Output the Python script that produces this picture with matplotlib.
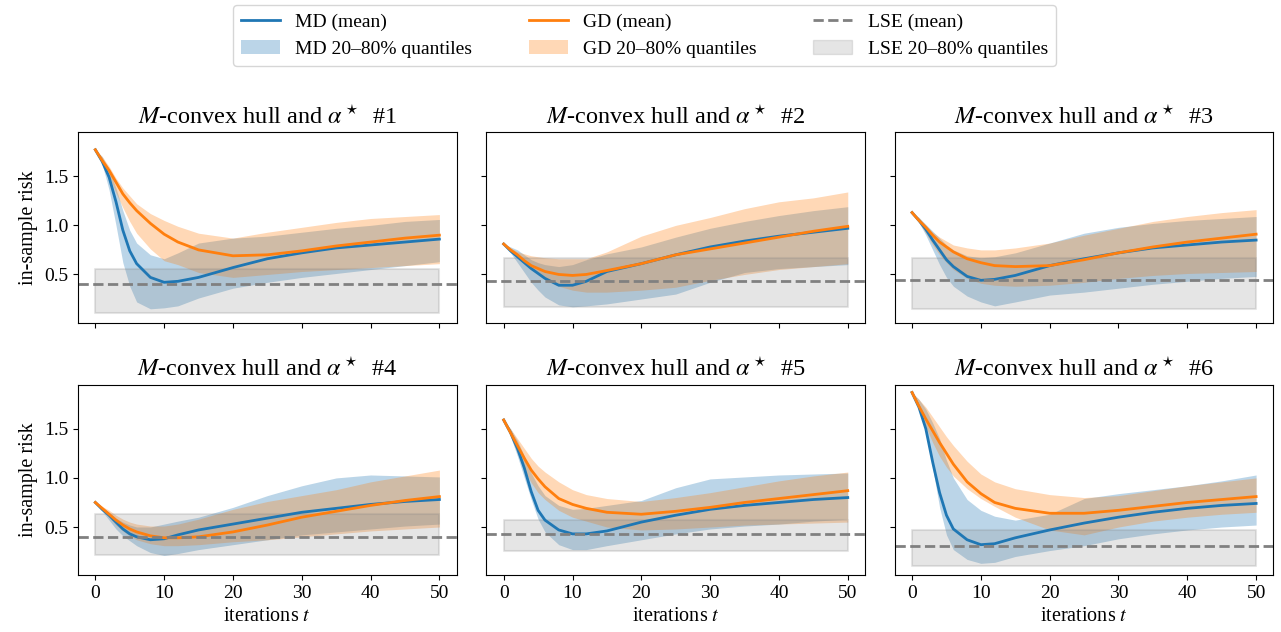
import numpy as np
import matplotlib
matplotlib.use("Agg")
import matplotlib.pyplot as plt
from matplotlib.lines import Line2D
from matplotlib.patches import Patch

plt.rcParams['font.family'] = 'serif'
plt.rcParams['font.serif'] = ['Liberation Serif', 'DejaVu Serif']
plt.rcParams['mathtext.fontset'] = 'stix'

# iterations where values were read
t = [0, 1, 2, 3, 4, 5, 6, 8, 10, 12, 15, 20, 25, 30, 35, 40, 45, 50]

# one list per panel (#1 .. #6)
md_mean = [
    [1.77, 1.65, 1.49, 1.24, 0.95, 0.74, 0.61, 0.47, 0.42, 0.43, 0.47, 0.57, 0.66, 0.72, 0.77, 0.80, 0.83, 0.86],
    [0.81, 0.74, 0.68, 0.62, 0.56, 0.51, 0.46, 0.39, 0.39, 0.43, 0.53, 0.61, 0.70, 0.78, 0.84, 0.89, 0.93, 0.97],
    [1.13, 1.05, 0.96, 0.85, 0.75, 0.65, 0.58, 0.48, 0.44, 0.45, 0.49, 0.59, 0.66, 0.72, 0.77, 0.80, 0.83, 0.85],
    [0.75, 0.68, 0.62, 0.55, 0.48, 0.43, 0.40, 0.37, 0.38, 0.42, 0.47, 0.53, 0.59, 0.65, 0.69, 0.73, 0.76, 0.78],
    [1.59, 1.46, 1.30, 1.10, 0.86, 0.67, 0.57, 0.47, 0.43, 0.43, 0.46, 0.55, 0.62, 0.68, 0.72, 0.75, 0.78, 0.80],
    [1.87, 1.72, 1.50, 1.16, 0.85, 0.62, 0.48, 0.37, 0.32, 0.33, 0.39, 0.47, 0.54, 0.60, 0.65, 0.69, 0.72, 0.74],
]
md_lo = [
    [1.77, 1.62, 1.36, 1.00, 0.62, 0.38, 0.22, 0.15, 0.16, 0.18, 0.26, 0.36, 0.42, 0.47, 0.51, 0.55, 0.59, 0.63],
    [0.81, 0.72, 0.62, 0.52, 0.42, 0.34, 0.27, 0.19, 0.17, 0.18, 0.20, 0.25, 0.30, 0.42, 0.52, 0.56, 0.58, 0.60],
    [1.13, 1.03, 0.90, 0.75, 0.60, 0.47, 0.38, 0.28, 0.22, 0.18, 0.22, 0.29, 0.32, 0.36, 0.40, 0.43, 0.46, 0.48],
    [0.75, 0.66, 0.57, 0.48, 0.41, 0.36, 0.31, 0.24, 0.21, 0.23, 0.27, 0.32, 0.37, 0.42, 0.45, 0.48, 0.51, 0.53],
    [1.59, 1.42, 1.22, 1.00, 0.78, 0.58, 0.45, 0.32, 0.27, 0.27, 0.31, 0.37, 0.43, 0.48, 0.51, 0.53, 0.56, 0.58],
    [1.87, 1.72, 1.52, 1.10, 0.70, 0.42, 0.27, 0.17, 0.13, 0.14, 0.20, 0.26, 0.31, 0.38, 0.43, 0.47, 0.50, 0.52],
]
md_hi = [
    [1.77, 1.70, 1.57, 1.38, 1.15, 0.95, 0.82, 0.70, 0.66, 0.72, 0.82, 0.87, 0.89, 0.93, 0.97, 1.00, 1.04, 1.06],
    [0.81, 0.78, 0.75, 0.70, 0.65, 0.62, 0.60, 0.58, 0.60, 0.65, 0.71, 0.78, 0.88, 0.97, 1.04, 1.10, 1.15, 1.19],
    [1.13, 1.08, 1.01, 0.94, 0.87, 0.80, 0.75, 0.69, 0.67, 0.68, 0.72, 0.82, 0.92, 0.98, 1.02, 1.05, 1.07, 1.09],
    [0.75, 0.70, 0.65, 0.59, 0.55, 0.52, 0.50, 0.50, 0.53, 0.56, 0.60, 0.70, 0.82, 0.92, 1.00, 1.03, 1.02, 1.01],
    [1.59, 1.50, 1.38, 1.22, 1.05, 0.92, 0.82, 0.72, 0.68, 0.69, 0.72, 0.77, 0.90, 0.99, 1.01, 1.03, 1.04, 1.05],
    [1.87, 1.80, 1.70, 1.56, 1.40, 1.18, 1.00, 0.78, 0.67, 0.61, 0.57, 0.63, 0.79, 0.84, 0.88, 0.92, 0.97, 1.03],
]

gd_mean = [
    [1.77, 1.66, 1.56, 1.44, 1.32, 1.23, 1.15, 1.02, 0.91, 0.83, 0.75, 0.69, 0.70, 0.74, 0.79, 0.83, 0.87, 0.90],
    [0.81, 0.75, 0.70, 0.64, 0.59, 0.56, 0.53, 0.50, 0.49, 0.50, 0.54, 0.61, 0.70, 0.76, 0.82, 0.88, 0.94, 0.99],
    [1.13, 1.05, 0.98, 0.90, 0.83, 0.78, 0.73, 0.66, 0.62, 0.59, 0.58, 0.59, 0.65, 0.72, 0.78, 0.83, 0.87, 0.91],
    [0.75, 0.69, 0.63, 0.57, 0.52, 0.48, 0.45, 0.41, 0.39, 0.39, 0.40, 0.45, 0.52, 0.60, 0.66, 0.72, 0.77, 0.81],
    [1.59, 1.46, 1.33, 1.20, 1.08, 0.99, 0.91, 0.79, 0.73, 0.69, 0.65, 0.63, 0.66, 0.70, 0.75, 0.79, 0.83, 0.87],
    [1.87, 1.73, 1.60, 1.48, 1.36, 1.25, 1.14, 0.96, 0.84, 0.75, 0.69, 0.64, 0.64, 0.67, 0.71, 0.75, 0.78, 0.81],
]
gd_lo = [
    [1.77, 1.65, 1.50, 1.33, 1.18, 1.04, 0.92, 0.76, 0.64, 0.60, 0.52, 0.47, 0.50, 0.53, 0.55, 0.57, 0.59, 0.61],
    [0.81, 0.74, 0.68, 0.61, 0.55, 0.50, 0.45, 0.38, 0.34, 0.32, 0.32, 0.34, 0.37, 0.44, 0.50, 0.55, 0.58, 0.61],
    [1.13, 1.03, 0.92, 0.80, 0.70, 0.62, 0.55, 0.46, 0.41, 0.39, 0.38, 0.39, 0.42, 0.46, 0.49, 0.51, 0.52, 0.53],
    [0.75, 0.68, 0.60, 0.52, 0.46, 0.41, 0.37, 0.33, 0.31, 0.31, 0.32, 0.35, 0.37, 0.40, 0.43, 0.46, 0.48, 0.50],
    [1.59, 1.42, 1.25, 1.08, 0.95, 0.85, 0.78, 0.67, 0.60, 0.56, 0.50, 0.47, 0.48, 0.50, 0.52, 0.53, 0.54, 0.55],
    [1.87, 1.70, 1.52, 1.36, 1.22, 1.11, 1.02, 0.89, 0.79, 0.71, 0.60, 0.47, 0.42, 0.50, 0.56, 0.60, 0.63, 0.65],
]
gd_hi = [
    [1.77, 1.70, 1.60, 1.48, 1.38, 1.30, 1.22, 1.12, 1.05, 0.99, 0.92, 0.87, 0.93, 0.98, 1.03, 1.07, 1.09, 1.11],
    [0.81, 0.77, 0.73, 0.71, 0.69, 0.68, 0.67, 0.66, 0.66, 0.66, 0.73, 0.89, 1.00, 1.08, 1.17, 1.24, 1.28, 1.34],
    [1.13, 1.08, 1.00, 0.93, 0.88, 0.84, 0.80, 0.77, 0.75, 0.75, 0.77, 0.82, 0.90, 0.97, 1.04, 1.09, 1.13, 1.16],
    [0.75, 0.71, 0.67, 0.62, 0.58, 0.55, 0.53, 0.51, 0.51, 0.53, 0.58, 0.68, 0.76, 0.82, 0.88, 0.96, 1.02, 1.08],
    [1.59, 1.50, 1.40, 1.30, 1.20, 1.12, 1.06, 0.96, 0.88, 0.83, 0.79, 0.76, 0.80, 0.85, 0.91, 0.97, 1.02, 1.06],
    [1.87, 1.80, 1.72, 1.62, 1.52, 1.42, 1.33, 1.17, 1.04, 0.96, 0.89, 0.83, 0.80, 0.82, 0.87, 0.92, 0.96, 1.00],
]

lse_mean = [0.40, 0.43, 0.44, 0.40, 0.43, 0.31]
lse_lo = [0.11, 0.17, 0.15, 0.22, 0.26, 0.10]
lse_hi = [0.56, 0.67, 0.67, 0.63, 0.57, 0.47]

c_md = '#1f77b4'
c_gd = '#ff7f0e'

fig, axes = plt.subplots(2, 3, figsize=(12.81, 6.32), dpi=100, sharex=True, sharey=True)
fig.subplots_adjust(left=0.061, right=0.994, top=0.791, bottom=0.090, wspace=0.079, hspace=0.326)

for k, ax in enumerate(axes.flat):
    ax.fill_between(t, md_lo[k], md_hi[k], color=c_md, alpha=0.3, linewidth=0)
    ax.plot(t, md_mean[k], color=c_md, lw=2)
    ax.fill_between(t, gd_lo[k], gd_hi[k], color=c_gd, alpha=0.3, linewidth=0)
    ax.plot(t, gd_mean[k], color=c_gd, lw=2)
    ax.fill_between([t[0], t[-1]], lse_lo[k], lse_hi[k], color='gray', alpha=0.2, linewidth=1.5)
    ax.axhline(lse_mean[k], color='gray', ls='--', lw=2)
    ax.set_title(r'$M$-convex hull and $\alpha^\star$  #%d' % (k + 1), fontsize=17.5)
    ax.tick_params(labelsize=14)
    if k % 3 == 0:
        ax.set_ylabel('in-sample risk', fontsize=14.5)
    if k >= 3:
        ax.set_xlabel(r'iterations $t$', fontsize=14.5)

axes[0, 0].set_ylim(0.01, 1.95)
axes[0, 0].set_yticks([0.5, 1.0, 1.5])
axes[0, 0].set_xticks([0, 10, 20, 30, 40, 50])

handles = [
    Line2D([], [], color=c_md, lw=2),
    Patch(facecolor=c_md, alpha=0.3),
    Line2D([], [], color=c_gd, lw=2),
    Patch(facecolor=c_gd, alpha=0.3),
    Line2D([], [], color='gray', ls='--', lw=2),
    Patch(facecolor='gray', alpha=0.2, edgecolor='gray'),
]
labels = ['MD (mean)', 'MD 20\u201380% quantiles',
          'GD (mean)', 'GD 20\u201380% quantiles',
          'LSE (mean)', 'LSE 20\u201380% quantiles']
fig.legend(handles, labels, loc='upper center', bbox_to_anchor=(0.503, 0.992),
           borderaxespad=0, ncol=3, fontsize=14, columnspacing=2.9)

fig.savefig('out.png', dpi=100)
